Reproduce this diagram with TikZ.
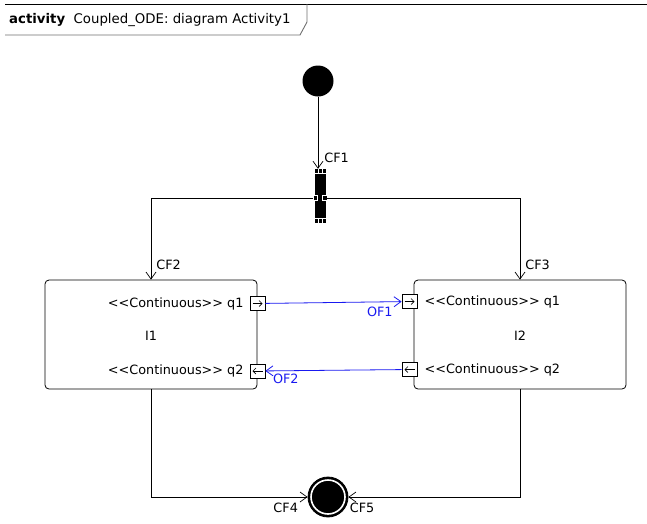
\documentclass[tikz,border=0pt]{standalone}
\usepackage{fontspec}
\setmainfont{DejaVu Sans}
\usetikzlibrary{arrows.meta, positioning, calc}
\definecolor{flowblue}{RGB}{25, 25, 240}
\definecolor{framegray}{RGB}{110, 110, 110}

\begin{document}
\begin{tikzpicture}[
			x=1pt, y=-1pt,
			action/.style={rectangle, draw, line width=0.8pt, rounded corners=4pt, minimum width=212pt, minimum height=109pt, inner sep=0pt},
			portbox/.style={rectangle, draw, line width=0.7pt, fill=white, minimum width=15pt, minimum height=14pt, inner sep=0pt},
			startnode/.style={circle, fill=black, minimum size=31pt, inner sep=0pt},
			endnode/.style={circle, draw, line width=0.8pt, fill=black, minimum size=40pt, inner sep=0pt,
				path picture={\draw[white, line width=1.6pt] (path picture bounding box.center) circle (17pt);}},
			forkbar/.style={rectangle, fill=black, minimum width=11pt, minimum height=54pt, inner sep=0pt},
			handle/.style={rectangle, draw=white, fill=black, line width=0.6pt, minimum size=4.5pt, inner sep=0pt},
			txt/.style={font=\fontsize{12.8}{15}\selectfont, inner sep=2pt},
			flow/.style={-{Straight Barb[length=7pt, width=10pt]}, line width=0.7pt},
			oflow/.style={-{Straight Barb[length=7pt, width=10pt]}, flowblue, line width=0.8pt},
			pinarrow/.style={-{Straight Barb[length=3pt, width=6pt]}, line width=0.6pt}
		]
		\useasboundingbox (0,0) rectangle (647,523);
		
		% Frame and tab
		\draw[line width=0.9pt] (5,4) -- (647,4);
		\draw[framegray, line width=0.9pt] (5,35) -- (300,35) -- (307,22) -- (307,4);
		\node[anchor=west, font=\fontsize{13.3}{15}\selectfont, inner sep=0pt] (title) at (9,20)
			{\textbf{activity}\ \ Coupled\_ODE: diagram Activity1};
		
		% Nodes
		\node[startnode] (start) at (318,81) {};
		\node[forkbar] (fork) at (320,196) {};
		\node[action] (i1) at (151,334.5) {};
		\node[action] (i2) at (520,334.5) {};
		\node[endnode] (stop) at (328,497) {};
		
		% Fork handles
		\draw[white, line width=1pt] ($(fork.north west)+(0,4.5)$) -- ($(fork.north east)+(0,4.5)$);
		\draw[white, line width=1pt] ($(fork.south west)+(0,-4.5)$) -- ($(fork.south east)+(0,-4.5)$);
		\draw[white, line width=0.8pt] ($(fork.north)+(-2,0)$) -- ++(0,4);
		\draw[white, line width=0.8pt] ($(fork.north)+(2,0)$) -- ++(0,4);
		\draw[white, line width=0.8pt] ($(fork.south)+(-2,0)$) -- ++(0,-4);
		\draw[white, line width=0.8pt] ($(fork.south)+(2,0)$) -- ++(0,-4);
		\node[handle] (forkl) at ($(fork.west)+(1,2)$) {};
		\node[handle] (forkr) at ($(fork.east)+(-1,2)$) {};
		
		% Pins
		\node[portbox] (i1q1) at (257.5,303.5) {};
		\node[portbox] (i1q2) at (257.5,371) {};
		\node[portbox] (i2q1) at (409.5,301.5) {};
		\node[portbox] (i2q2) at (409.5,369.5) {};
		\draw[pinarrow] ([xshift=-5pt]i1q1.center) -- ([xshift=5pt]i1q1.center);
		\draw[pinarrow] ([xshift=5pt]i1q2.center) -- ([xshift=-5pt]i1q2.center);
		\draw[pinarrow] ([xshift=-5pt]i2q1.center) -- ([xshift=5pt]i2q1.center);
		\draw[pinarrow] ([xshift=5pt]i2q2.center) -- ([xshift=-5pt]i2q2.center);
		
		% Texts in actions
		\node[txt, left=4pt of i1q1] (i1t1) {<{}<Continuous>{}> q1};
		\node[txt, left=4pt of i1q2] (i1t2) {<{}<Continuous>{}> q2};
		\node[txt] (i1name) at (151,336) {I1};
		\node[txt, right=5pt of i2q1] (i2t1) {<{}<Continuous>{}> q1};
		\node[txt, right=5pt of i2q2] (i2t2) {<{}<Continuous>{}> q2};
		\node[txt] (i2name) at (520,336) {I2};
		
		% Control flows
		\draw[flow] (start) -- (start |- fork.north) node[txt, pos=0.85, right=4pt] {CF1};
		\draw[flow] (forkl) -| (i1.north) node[txt, pos=0.91, right=3pt] {CF2};
		\draw[flow] (forkr) -| (i2.north) node[txt, pos=0.91, right=3pt] {CF3};
		\draw[flow] (i1.south) |- (stop.west) node[txt, pos=0.93, below=4pt] {CF4};
		\draw[flow] (i2.south) |- (stop.east) node[txt, pos=0.96, below=4pt] {CF5};
		
		% Object flows
		\draw[oflow] (i1q1) -- (i2q1) node[txt, pos=0.84, below=3pt] {OF1};
		\draw[oflow] (i2q2) -- (i1q2) node[txt, pos=0.85, below=1pt] {OF2};
\end{tikzpicture}
\end{document}
